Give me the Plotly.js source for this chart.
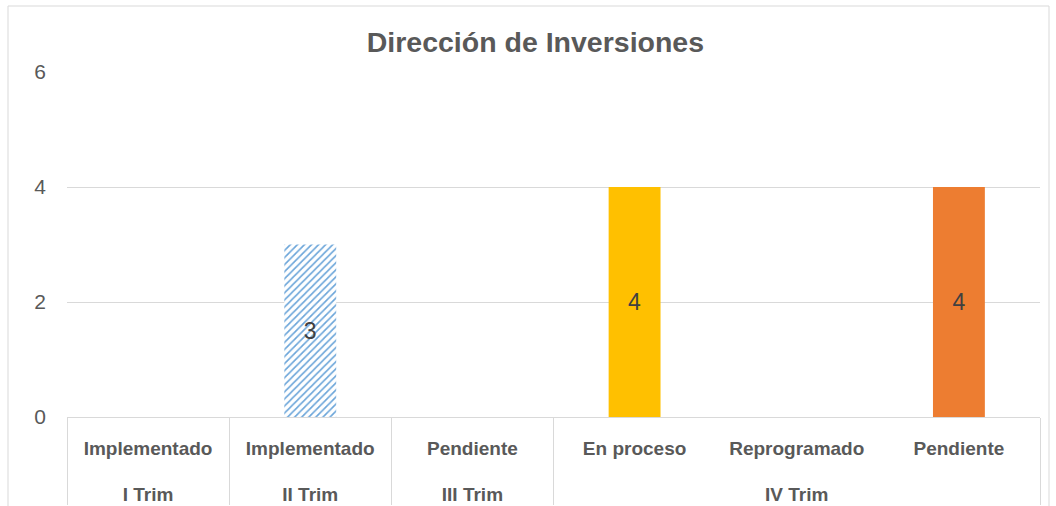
<!DOCTYPE html>
<html>
<head>
<meta charset="utf-8">
<script src="https://cdn.plot.ly/plotly-3.0.1.min.js"></script>
<style>
  html, body { margin: 0; padding: 0; background: #ffffff; }
  #chart { width: 1056px; height: 506px; }
</style>
</head>
<body>
<div id="chart"></div>
<script>
const periods = ["I Trim", "II Trim", "III Trim", "IV Trim", "IV Trim", "IV Trim"];
const statuses = ["Implementado", "Implementado", "Pendiente", "En proceso", "Reprogramado", "Pendiente"];
const values = [0, 3, 0, 4, 0, 4];
const barColors = ["#ffffff", "rgba(0,0,0,0)", "#ffffff", "#FFC000", "#ffffff", "#ED7D31"];
const patternShapes = ["", "/", "", "", "", ""];
const yTicks = [0, 2, 4, 6];

// Multicategory axes order level-2 labels by first appearance, so make each
// status key unique (invisible zero-width suffix) to keep the original order.
// A trailing non-breaking-space line pushes the period row further down.
const statusKeys = statuses.map((s, i) =>
  s + "\u200b".repeat(i) + "<br><span style='font-size:52px'>\u00a0</span>");

const font = "Liberation Sans, Arial, sans-serif";

// hatched bar(s): drawn underneath, scalar colours so the pattern colour holds
const hatchTrace = {
  type: "bar",
  x: [periods, statusKeys],
  y: values.map((v, i) => patternShapes[i] ? v : null),
  width: 0.32,
  marker: {
    color: "#5B9BD5",
    line: { width: 0 },
    pattern: {
      shape: "/",
      fgcolor: "#5B9BD5",
      bgcolor: "#ffffff",
      fgopacity: 0.9,
      size: 5,
      solidity: 0.33,
      fillmode: "replace"
    }
  },
  hoverinfo: "none",
  showlegend: false
};

// all bars with fills and value labels
const mainTrace = {
  type: "bar",
  x: [periods, statusKeys],
  y: values,
  width: 0.32,
  text: values.map(v => v ? String(v) : ""),
  textposition: "inside",
  insidetextanchor: "middle",
  textangle: 0,
  constraintext: "none",
  textfont: { family: font, size: 23, color: "#404040" },
  marker: { color: barColors, line: { width: 0 } },
  hoverinfo: "none",
  showlegend: false
};

const layout = {
  width: 1056,
  height: 506,
  margin: { l: 67, r: 16, t: 72, b: 89, pad: 0 },
  paper_bgcolor: "#ffffff",
  plot_bgcolor: "#ffffff",
  barmode: "overlay",
  title: {
    text: "Dirección de Inversiones",
    font: { family: font, size: 28.5, color: "#595959", weight: "bold" },
    xref: "container",
    x: 0.507,
    xanchor: "center",
    yref: "container",
    y: 0.917,
    yanchor: "middle"
  },
  xaxis: {
    type: "multicategory",
    showline: true,
    linecolor: "#d9d9d9",
    linewidth: 1,
    ticks: "",
    showgrid: false,
    showdividers: true,
    dividercolor: "#d9d9d9",
    dividerwidth: 1,
    ticklabelstandoff: 14,
    tickfont: { family: font, size: 19, color: "#595959", weight: "bold" },
    automargin: false,
    fixedrange: true
  },
  yaxis: {
    range: [0, 6],
    tickvals: yTicks,
    ticktext: yTicks.map(String),
    showgrid: true,
    gridcolor: "#d9d9d9",
    gridwidth: 1,
    zeroline: false,
    showline: false,
    ticks: "",
    ticklabelstandoff: 20,
    tickfont: { family: font, size: 21, color: "#595959" },
    automargin: false,
    fixedrange: true
  },
  shapes: [
    {
      type: "rect",
      xref: "paper", yref: "paper",
      x0: (8 - 67) / 973, x1: (1049 - 67) / 973,
      y0: -0.4, y1: (417 - 6) / 345,
      line: { color: "#d9d9d9", width: 1 },
      fillcolor: "rgba(0,0,0,0)",
      layer: "below"
    }
  ]
};

Plotly.newPlot("chart", [hatchTrace, mainTrace], layout, { displayModeBar: false, staticPlot: true });
</script>
</body>
</html>
